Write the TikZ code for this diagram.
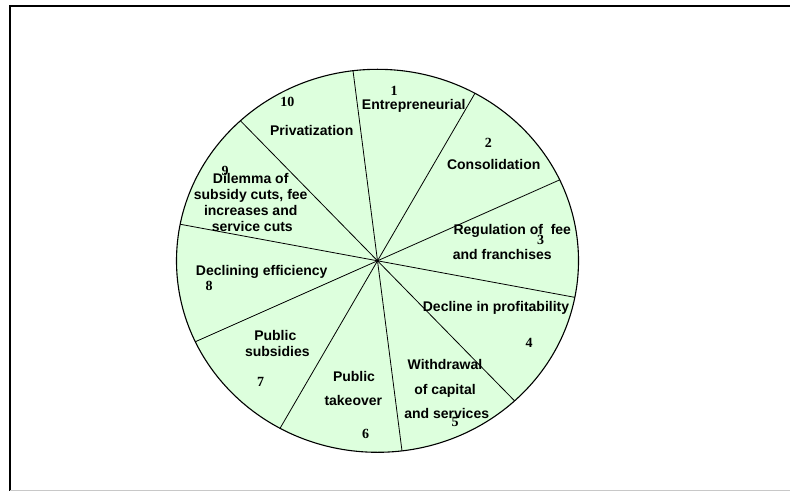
\documentclass[tikz,border=0pt]{standalone}
\usepackage{fontspec}
\newfontfamily\labfont{Liberation Sans}
\newfontfamily\numfont{Liberation Serif}
\definecolor{piefill}{RGB}{221,255,221}
\definecolor{framegray}{RGB}{200,200,200}
\begin{document}
\begin{tikzpicture}[x=1bp,y=-1bp,
  lbl/.style={font=\labfont\bfseries\fontsize{14bp}{16bp}\selectfont, anchor=base, inner sep=0pt},
  num/.style={font=\numfont\bfseries\fontsize{14bp}{16bp}\selectfont, anchor=base, inner sep=0pt},
  spoke/.style={draw=black, line width=0.8bp},
  rim/.style={draw=black, line width=1.1bp, fill=piefill}]
\useasboundingbox (0,0) rectangle (790,491);
% frame
\coordinate (ftl) at (9.5,6);
\coordinate (ftr) at (790,6);
\coordinate (fbl) at (9.5,491);
\coordinate (gbl) at (10,490.3);
\coordinate (gbr) at (790,490.3);
\draw[line width=2bp] (ftr) -- (ftl) -- (fbl);
\draw[framegray, line width=1bp] (gbl) -- (gbr);
% pie
\coordinate (c) at (377.5,260.8);
\draw[rim] (c) ellipse [x radius=201bp, y radius=191.5bp];
\foreach \a [count=\i] in {97,61,25,-11,-47,-83,-119,-155,169,133}{
  \coordinate (p\i) at ({377.5+201*cos(\a)},{260.8-191.5*sin(\a)});
}
\foreach \i in {1,...,10}{\draw[spoke] (c) -- (p\i);}
% labels
\node[num] (n1) at (394,96) {1};
\node[lbl] (t1) at (413.7,110) {Entrepreneurial};
\node[num] (n2) at (488.3,147.5) {2};
\node[lbl] (t2) at (493.7,170) {Consolidation};
\node[lbl] (t3a) at (512.3,235) {Regulation of\ \ fee};
\node[num] (n3) at (540.7,244.5) {3};
\node[lbl] (t3b) at (502.3,260) {and franchises};
\node[lbl] (t4) at (496,311.7) {Decline in profitability};
\node[num] (n4) at (529,347.7) {4};
\node[lbl] (t5a) at (445,369) {Withdrawal};
\node[lbl] (t5b) at (445,394.3) {of capital};
\node[lbl] (t5c) at (446.7,418.3) {and services};
\node[num] (n5) at (455,426.7) {5};
\node[lbl] (t6a) at (354,381) {Public};
\node[lbl] (t6b) at (353.3,405) {takeover};
\node[num] (n6) at (365.7,438.3) {6};
\node[lbl] (t7a) at (275.3,340) {Public};
\node[lbl] (t7b) at (277.3,356.7) {subsidies};
\node[num] (n7) at (260.7,386.7) {7};
\node[lbl] (t8) at (261.7,276) {Declining efficiency};
\node[num] (n8) at (209,290.7) {8};
\node[num] (n9) at (225,175.7) {9};
\node[lbl] (t9a) at (250.7,183.3) {Dilemma of};
\node[lbl] (t9b) at (250.7,200) {subsidy cuts, fee};
\node[lbl] (t9c) at (250.7,215.7) {increases and};
\node[lbl] (t9d) at (252.3,231.7) {service cuts};
\node[num] (n10) at (287.3,106.7) {10};
\node[lbl] (t10) at (311.7,135.7) {Privatization};
\end{tikzpicture}
\end{document}
